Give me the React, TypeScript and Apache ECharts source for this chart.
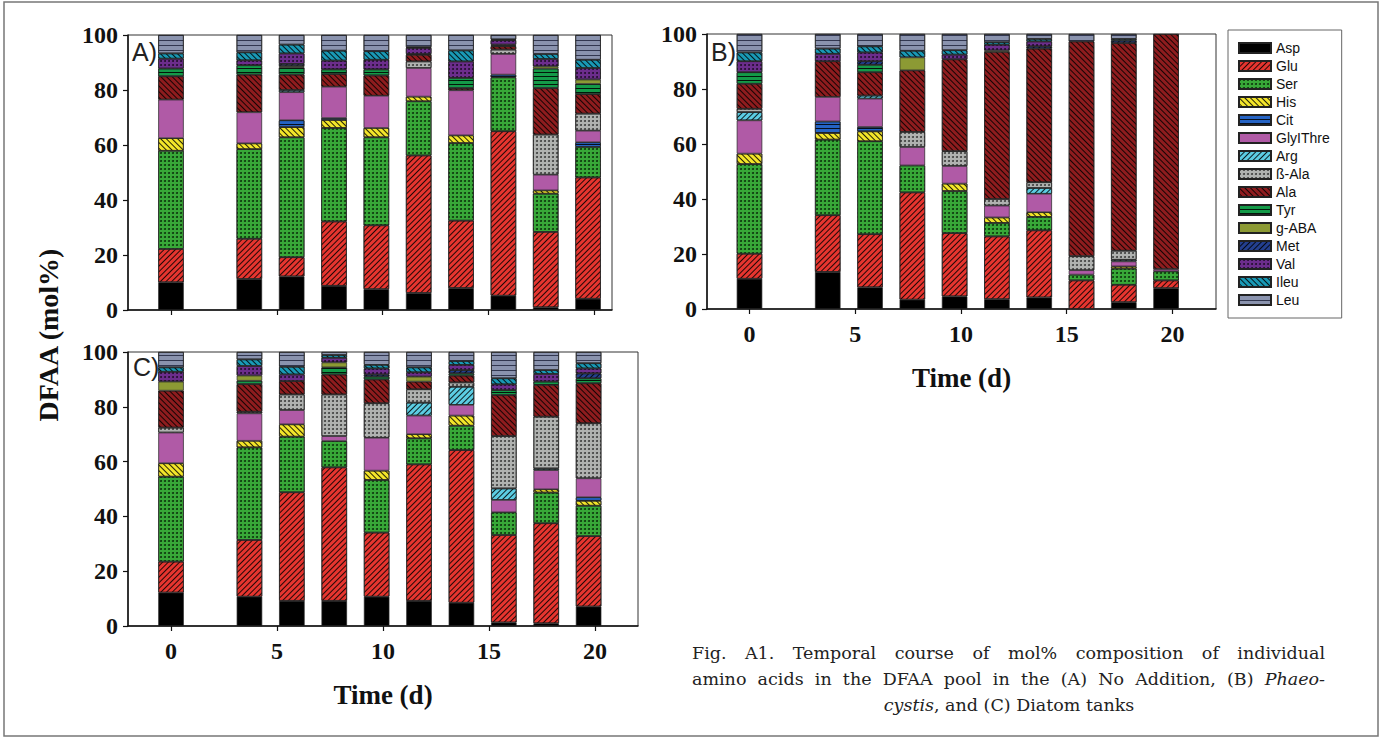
import React, { useEffect, useRef } from 'react';
import * as echarts from 'echarts';

// ---------------- data ----------------
const days = [0, 3.7, 5.7, 7.7, 9.7, 11.7, 13.7, 15.7, 17.7, 19.7];
const xTickValues = [0, 5, 10, 15, 20];
const aminoAcids = ['Asp', 'Glu', 'Ser', 'His', 'Cit', 'GlyIThre', 'Arg', 'ß-Ala', 'Ala', 'Tyr', 'g-ABA', 'Met', 'Val', 'Ileu', 'Leu'];

// (A) No Addition, mol%
const A_Asp = [10.1, 11.3, 12.2, 8.8, 7.6, 6.2, 8.0, 5.2, 1.0, 4.1];
const A_Glu = [12.1, 14.6, 7.0, 23.4, 23.2, 50.0, 24.5, 59.8, 27.4, 44.1];
const A_Ser = [35.7, 32.6, 43.6, 34.0, 32.0, 19.7, 28.2, 19.6, 13.9, 11.1];
const A_His = [4.6, 2.1, 3.7, 2.9, 3.4, 1.7, 2.8, 0, 1.2, 0];
const A_Cit = [0, 0, 2.5, 0.7, 0, 0, 0, 1.0, 0, 1.7];
const A_Gly = [14.0, 11.3, 10.2, 11.4, 11.7, 10.4, 16.4, 7.5, 5.7, 4.2];
const A_Arg = [0, 0, 0.8, 0, 0, 0, 0, 0, 0, 0];
const A_bAla = [0, 0, 0, 0, 0, 2.4, 0, 1.6, 14.6, 6.2];
const A_Ala = [8.5, 13.7, 5.6, 4.6, 7.4, 2.4, 0.8, 1.2, 16.9, 7.1];
const A_Tyr = [2.8, 3.4, 2.6, 1.7, 2.2, 0.3, 3.7, 0.3, 7.1, 3.7];
const A_gABA = [0, 0, 0.5, 0, 0, 0, 0, 0.3, 0.8, 1.6];
const A_Met = [0, 0, 0.8, 0, 0, 0, 0, 0, 0, 0];
const A_Val = [3.6, 1.8, 3.8, 3.2, 3.5, 2.2, 6.0, 1.6, 2.7, 4.2];
const A_Ileu = [1.9, 2.9, 3.2, 3.6, 3.1, 0.3, 4.0, 0.3, 1.8, 3.0];
const A_Leu = [6.7, 6.3, 3.5, 5.7, 5.9, 4.4, 5.6, 1.6, 6.9, 9.0];

// (B) Phaeocystis, mol%
const B_Asp = [11.0, 13.5, 7.9, 3.4, 4.6, 3.6, 4.2, 0, 2.5, 7.6];
const B_Glu = [9.1, 20.6, 19.3, 39.0, 23.0, 22.8, 24.4, 10.4, 6.3, 2.8];
const B_Ser = [32.6, 27.5, 33.8, 9.8, 15.3, 4.9, 4.9, 2.1, 5.9, 3.3];
const B_His = [3.8, 2.4, 3.6, 0, 2.7, 2.0, 1.7, 0, 0.8, 0];
const B_Cit = [0, 4.2, 1.6, 0, 0, 0, 0, 0, 0, 0];
const B_Gly = [12.1, 8.9, 10.3, 6.7, 6.4, 4.3, 6.7, 1.6, 1.8, 0.8];
const B_Arg = [3.0, 0, 1.1, 0, 0, 0, 2.1, 0, 0.6, 0];
const B_bAla = [1.2, 0, 0, 5.5, 5.4, 2.4, 2.1, 5.1, 3.3, 0];
const B_Ala = [9.1, 13.0, 8.5, 22.4, 33.4, 53.5, 48.6, 78.1, 75.5, 85.5];
const B_Tyr = [4.2, 0, 2.7, 0, 0, 0, 0, 0, 0, 0];
const B_gABA = [0, 0, 0, 4.7, 0, 0.5, 0, 0, 0, 0];
const B_Met = [0, 0, 1.3, 0, 0, 0, 0.8, 0, 0.9, 0];
const B_Val = [4.0, 2.7, 3.2, 0, 1.7, 2.1, 1.8, 0, 0, 0];
const B_Ileu = [3.2, 1.9, 2.2, 2.4, 1.6, 0.9, 0.9, 0, 0.6, 0];
const B_Leu = [6.7, 5.3, 4.5, 6.1, 5.9, 3.0, 1.8, 2.7, 1.8, 0];

// (C) Diatom, mol%
const C_Asp = [12.2, 10.7, 9.2, 9.2, 10.7, 9.2, 8.5, 1.3, 1.0, 7.1];
const C_Glu = [11.3, 20.7, 39.6, 48.7, 23.4, 49.8, 55.7, 31.9, 36.5, 25.7];
const C_Ser = [31.0, 33.8, 20.3, 9.6, 19.2, 9.5, 8.9, 8.3, 11.2, 11.1];
const C_His = [4.9, 2.4, 4.5, 0, 3.4, 1.5, 3.7, 0, 1.2, 1.8];
const C_Cit = [0, 0, 0, 0, 0, 0, 0, 0, 0, 1.3];
const C_Gly = [11.2, 10.0, 5.2, 1.8, 12.0, 6.8, 3.9, 4.5, 7.0, 6.9];
const C_Arg = [0, 0, 0, 0, 0, 4.7, 6.6, 4.2, 0.6, 0];
const C_bAla = [1.8, 0.6, 5.7, 15.2, 12.6, 4.9, 1.6, 19.1, 18.9, 20.1];
const C_Ala = [13.5, 10.1, 4.9, 7.3, 8.7, 2.8, 2.5, 15.0, 11.6, 14.6];
const C_Tyr = [0, 1.2, 0, 2.6, 1.0, 0, 0.8, 1.8, 1.2, 1.8];
const C_gABA = [3.3, 1.9, 0, 1.8, 0, 1.8, 0, 0, 0, 0];
const C_Met = [0, 0, 0, 0, 0.8, 0, 1.2, 0, 0, 1.8];
const C_Val = [3.6, 3.5, 2.4, 1.7, 2.2, 1.6, 1.9, 2.1, 2.8, 1.8];
const C_Ileu = [1.6, 2.4, 2.8, 1.0, 1.3, 1.8, 1.4, 2.2, 1.4, 1.9];
const C_Leu = [5.6, 2.7, 5.4, 1.1, 4.7, 5.6, 3.3, 9.6, 6.6, 4.1];

const panelA = [A_Asp, A_Glu, A_Ser, A_His, A_Cit, A_Gly, A_Arg, A_bAla, A_Ala, A_Tyr, A_gABA, A_Met, A_Val, A_Ileu, A_Leu];
const panelB = [B_Asp, B_Glu, B_Ser, B_His, B_Cit, B_Gly, B_Arg, B_bAla, B_Ala, B_Tyr, B_gABA, B_Met, B_Val, B_Ileu, B_Leu];
const panelC = [C_Asp, C_Glu, C_Ser, C_His, C_Cit, C_Gly, C_Arg, C_bAla, C_Ala, C_Tyr, C_gABA, C_Met, C_Val, C_Ileu, C_Leu];

const captionLine1 = 'Fig. A1. Temporal course of mol% composition of individual';
const captionLine2 = 'amino acids in the DFAA pool in the (A) No Addition, (B) Phaeo-';
const italicWords = ['Phaeo-'];

// ---------------- styles ----------------
const hatch = (rot: number, gap: number, color = 'rgba(0,0,0,0.85)') => ({
  symbol: 'rect', symbolSize: 1, dashArrayX: [1, 0], dashArrayY: [1, gap], rotation: rot, color,
});
const dots = (size: number, cell: number, color: string) => ({
  symbol: 'circle', symbolSize: size, dashArrayX: [cell, cell], dashArrayY: [cell, cell], color,
});

const acidStyles: any[] = [
  { color: '#000000' },
  { color: '#e6352f', decal: hatch(-Math.PI / 4, 3) },
  { color: '#38a838', decal: dots(0.95, 2, 'rgba(0,20,0,0.8)') },
  { color: '#f3e52a', decal: hatch(Math.PI / 4, 3) },
  { color: '#2563c4', decal: hatch(0, 2.5) },
  { color: '#b05aa6' },
  { color: '#5ccde3', decal: hatch(-Math.PI / 4, 3) },
  { color: '#b0b2b0', decal: dots(0.95, 2, 'rgba(30,30,30,0.8)') },
  { color: '#8e1c1e', decal: hatch(Math.PI / 4, 3) },
  { color: '#149a48', decal: hatch(0, 3) },
  { color: '#8c9a34' },
  { color: '#233f8f', decal: hatch(-Math.PI / 4, 3) },
  { color: '#6c2d8c', decal: dots(0.9, 2, 'rgba(0,0,0,0.75)') },
  { color: '#1999b5', decal: hatch(Math.PI / 4, 3) },
  { color: '#8a93ae', decal: hatch(0, 4, 'rgba(40,45,70,0.9)') },
];

const tickFont = { fontFamily: '"Liberation Serif", serif', fontWeight: 'bold' as const, fontSize: 24, color: '#111' };

function makeXAxis(grid: number, min: number, max: number, showLabels: boolean) {
  return {
    type: 'value', gridIndex: grid, min, max,
    axisLine: { show: true, onZero: false, lineStyle: { color: '#111', width: 1.5 } },
    axisTick: { show: true, length: 5, inside: false, customValues: xTickValues, lineStyle: { color: '#111', width: 1.2 } },
    axisLabel: { show: showLabels, customValues: xTickValues, margin: 13, ...tickFont },
    splitLine: { show: false },
    name: showLabels ? 'Time (d)' : '',
    nameLocation: 'middle', nameGap: 55,
    nameTextStyle: { fontFamily: '"Liberation Serif", serif', fontWeight: 'bold', fontSize: 27, color: '#111' },
  };
}
function makeYAxis(grid: number) {
  return {
    type: 'value', gridIndex: grid, min: 0, max: 100, interval: 20,
    axisLine: { show: true, onZero: false, lineStyle: { color: '#111', width: 1.5 } },
    axisTick: { show: true, length: 5, lineStyle: { color: '#111', width: 1.2 } },
    axisLabel: { margin: 10, ...tickFont },
    splitLine: { show: false },
  };
}

function buildCaption(): any[] {
  const canvas = document.createElement('canvas');
  const ctx = canvas.getContext('2d')!;
  const size = 17.5;
  const family = '"DejaVu Serif", serif';
  const measure = (t: string, it: boolean) => {
    ctx.font = `${it ? 'italic ' : ''}${size}px ${family}`;
    return ctx.measureText(t).width;
  };
  const els: any[] = [];
  const x0 = 692, x1 = 1325;
  const justify = (line: string, y: number) => {
    const words = line.split(' ');
    const ws = words.map((w) => measure(w, italicWords.includes(w)));
    const total = ws.reduce((a, b) => a + b, 0);
    const gap = (x1 - x0 - total) / (words.length - 1);
    let x = x0;
    words.forEach((w, i) => {
      els.push({
        type: 'text', x, y,
        style: { text: w, fontSize: size, fontFamily: family, fontStyle: italicWords.includes(w) ? 'italic' : 'normal', fill: '#222', align: 'left', verticalAlign: 'middle' },
      });
      x += ws[i] + gap;
    });
  };
  justify(captionLine1, 653);
  justify(captionLine2, 679);
  els.push({
    type: 'text', x: 1009, y: 705,
    style: {
      text: '{i|cystis}, and (C) Diatom tanks', fontSize: size, fontFamily: family, fill: '#222', align: 'center', verticalAlign: 'middle',
      rich: { i: { fontStyle: 'italic', fontSize: size, fontFamily: family, fill: '#222' } },
    },
  });
  return els;
}

export default function App() {
  const ref = useRef<HTMLDivElement>(null);
  useEffect(() => {
    if (!ref.current) return;
    const chart = echarts.init(ref.current, undefined, { renderer: 'svg' });
    const panels = [
      { id: 'A', values: panelA },
      { id: 'B', values: panelB },
      { id: 'C', values: panelC },
    ];
    const series: any[] = [];
    panels.forEach((p, pi) => {
      aminoAcids.forEach((name, ai) => {
        series.push({
          type: 'bar', name, stack: p.id, xAxisIndex: pi, yAxisIndex: pi, barWidth: 25.5,
          itemStyle: { ...acidStyles[ai], borderColor: '#222', borderWidth: 0.7 },
          emphasis: { disabled: true },
          // value first so that the stacked dimension is the mol% value
          encode: { x: 1, y: 0 },
          data: days.map((d, di) => [p.values[ai][di] > 0 ? p.values[ai][di] : '-', d]),
        });
      });
    });
    const letter = (t: string, x: number, y: number) => ({
      type: 'text', x, y, z: 100,
      style: { text: t, fontFamily: '"Liberation Sans", Arial, sans-serif', fontSize: 25, fill: '#222', align: 'left', verticalAlign: 'middle' },
    });
    chart.setOption({
      animation: false,
      backgroundColor: '#ffffff',
      grid: [
        { left: 128, top: 35, width: 484, height: 275, show: true, borderColor: '#333', borderWidth: 1, backgroundColor: 'transparent' },
        { left: 707, top: 34, width: 509, height: 275, show: true, borderColor: '#333', borderWidth: 1, backgroundColor: 'transparent' },
        { left: 128, top: 352, width: 510, height: 274, show: true, borderColor: '#333', borderWidth: 1, backgroundColor: 'transparent' },
      ],
      xAxis: [
        makeXAxis(0, -2.03, 20.83, false),
        makeXAxis(1, -2.01, 22.06, true),
        makeXAxis(2, -2.03, 22.03, true),
      ],
      yAxis: [makeYAxis(0), makeYAxis(1), makeYAxis(2)],
      legend: {
        show: true, orient: 'vertical', left: 1228, top: 30,
        data: aminoAcids, icon: 'rect', itemWidth: 32, itemHeight: 10, itemGap: 4, itemTextGap: 8,
        selectedMode: false,
        padding: [11, 12, 11, 10],
        borderColor: '#666', borderWidth: 1,
        textStyle: { fontFamily: '"Liberation Sans", Arial, sans-serif', fontSize: 14, color: '#111', lineHeight: 14 },
      },
      graphic: [
        { type: 'rect', shape: { x: 4, y: 2, width: 1374, height: 734 }, style: { fill: 'none', stroke: '#777', lineWidth: 1.5 }, silent: true, z: -10 },
        {
          type: 'text', x: 48, y: 335, rotation: Math.PI / 2,
          style: { text: 'DFAA (mol%)', fontFamily: '"Liberation Serif", serif', fontWeight: 'bold', fontSize: 28, fill: '#111', align: 'center', verticalAlign: 'middle' },
        },
        letter('A)', 132, 52),
        letter('B)', 711, 52),
        letter('C)', 133, 367),
        ...buildCaption(),
      ],
      series,
    });
    return () => chart.dispose();
  }, []);
  return <div ref={ref} style={{ position: 'absolute', left: 0, top: 0, width: 1382, height: 740, background: '#fff' }} />;
}
